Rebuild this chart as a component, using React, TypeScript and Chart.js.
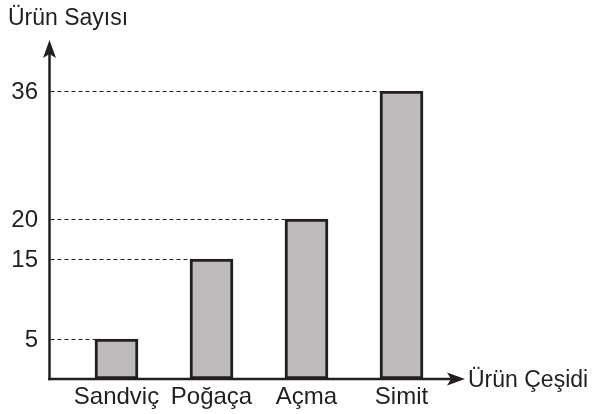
import React, { useEffect, useRef } from "react";
import { Chart, registerables } from "chart.js";

Chart.register(...registerables);

const categories = ["Sandviç", "Poğaça", "Açma", "Simit"];
const values = [5, 15, 20, 36];
const yTickValues = [5, 15, 20, 36];
const yAxisTitle = "Ürün Sayısı";
const xAxisTitle = "Ürün Çeşidi";

const INK = "#231f20";
const FONT = '24px "Liberation Sans", Arial, sans-serif';
const TITLE_FONT = '23px "Liberation Sans", Arial, sans-serif';

const axesPlugin = {
  id: "customAxes",
  afterDatasetsDraw(chart: any) {
    const ctx = chart.ctx;
    const x = chart.scales.x;
    const y = chart.scales.y;
    const meta = chart.getDatasetMeta(0);
    const axisX = 49.5;
    const axisY = y.getPixelForValue(0);

    ctx.save();
    // dashed guide lines
    ctx.strokeStyle = INK;
    ctx.lineWidth = 1;
    ctx.setLineDash([4, 3]);
    yTickValues.forEach((v) => {
      const idx = values.indexOf(v);
      const py = Math.round(y.getPixelForValue(v)) + 0.5;
      let endX = chart.chartArea.right;
      if (idx >= 0) {
        const el = meta.data[idx];
        endX = el.x - el.width / 2;
      }
      ctx.beginPath();
      ctx.moveTo(axisX + 1, py);
      ctx.lineTo(endX, py);
      ctx.stroke();
    });
    ctx.setLineDash([]);

    // axes lines
    ctx.lineWidth = 2.5;
    ctx.beginPath();
    ctx.moveTo(axisX, axisY + 1.2);
    ctx.lineTo(axisX, 52);
    ctx.stroke();
    ctx.beginPath();
    ctx.moveTo(axisX - 1.2, axisY);
    ctx.lineTo(455, axisY);
    ctx.stroke();

    // arrowheads
    ctx.fillStyle = INK;
    ctx.beginPath();
    ctx.moveTo(axisX, 40);
    ctx.lineTo(axisX - 6.5, 58);
    ctx.lineTo(axisX, 54);
    ctx.lineTo(axisX + 6.5, 58);
    ctx.closePath();
    ctx.fill();
    ctx.beginPath();
    ctx.moveTo(465, axisY);
    ctx.lineTo(447, axisY - 6.5);
    ctx.lineTo(451, axisY);
    ctx.lineTo(447, axisY + 6.5);
    ctx.closePath();
    ctx.fill();

    // tick labels
    ctx.font = FONT;
    ctx.fillStyle = INK;
    ctx.textAlign = "right";
    ctx.textBaseline = "middle";
    yTickValues.forEach((v) => {
      ctx.fillText(String(v), 38, y.getPixelForValue(v) + 1);
    });
    ctx.textAlign = "center";
    ctx.textBaseline = "alphabetic";
    categories.forEach((c, i) => {
      ctx.fillText(c, x.getPixelForValue(i), 404);
    });

    // axis titles
    ctx.font = TITLE_FONT;
    ctx.textAlign = "left";
    ctx.fillText(yAxisTitle, 8, 25);
    ctx.fillText(xAxisTitle, 468, 387);
    ctx.restore();
  },
};

export default function App() {
  const ref = useRef<HTMLCanvasElement | null>(null);
  useEffect(() => {
    if (!ref.current) return;
    const chart = new Chart(ref.current, {
      type: "bar",
      data: {
        labels: categories,
        datasets: [
          {
            data: values,
            backgroundColor: "#bdbbbc",
            borderColor: INK,
            borderWidth: 3,
            borderSkipped: false,
            barThickness: 43,
          },
        ],
      },
      options: {
        animation: false,
        responsive: false,
        devicePixelRatio: 1,
        layout: { padding: { left: 69, right: 144, top: 91, bottom: 35 } },
        plugins: { legend: { display: false }, tooltip: { enabled: false } },
        scales: {
          x: { type: "category", display: false, offset: true },
          y: { display: false, min: 0, max: 36 },
        },
      },
      plugins: [axesPlugin],
    });
    return () => chart.destroy();
  }, []);
  return (
    <div style={{ position: "fixed", left: 0, top: 0, width: 593, height: 414, background: "#fff" }}>
      <canvas ref={ref} width={593} height={414} style={{ width: 593, height: 414 }} />
    </div>
  );
}
